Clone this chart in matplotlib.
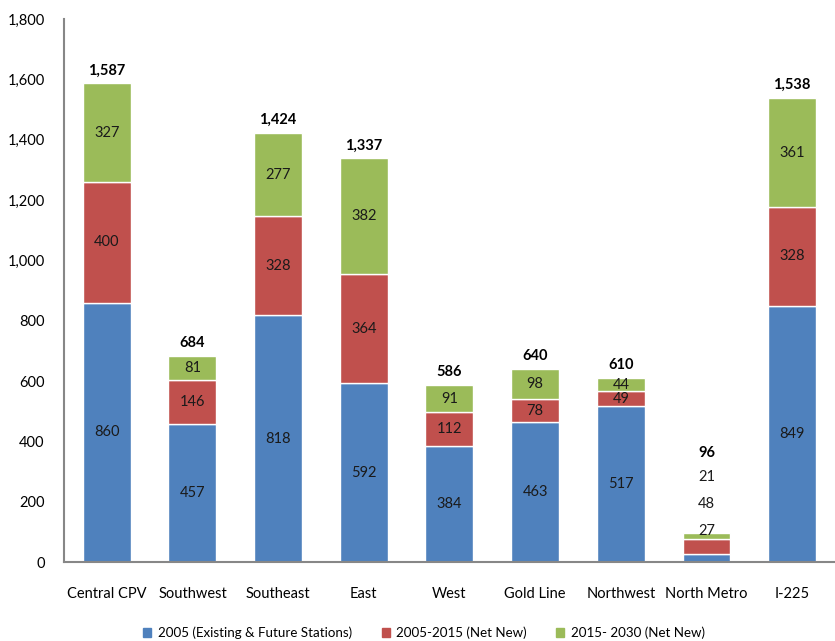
import numpy as np
import matplotlib.pyplot as plt
from matplotlib.patches import Patch

plt.rcParams['font.family'] = ['Lato', 'DejaVu Sans']

corridors = ['Central CPV', 'Southwest', 'Southeast', 'East', 'West',
             'Gold Line', 'Northwest', 'North Metro', 'I-225']
base_2005 = [860, 457, 818, 592, 384, 463, 517, 27, 849]
new_2015 = [400, 146, 328, 364, 112, 78, 49, 48, 328]
new_2030 = [327, 81, 277, 382, 91, 98, 44, 21, 361]
totals = [1587, 684, 1424, 1337, 586, 640, 610, 96, 1538]
series_names = ['2005 (Existing & Future Stations)', '2005-2015 (Net New)',
                '2015- 2030 (Net New)']
colors = ['#4F81BD', '#C0504D', '#9BBB59']

fig = plt.figure(figsize=(8.35, 6.41), dpi=100)
ax = fig.add_axes([0.0766, 0.1232, 0.9234, 0.847])

x = np.arange(len(corridors))
width = 0.56
bottom = np.zeros(len(corridors))
for vals, c in zip([base_2005, new_2015, new_2030], colors):
    vals = np.array(vals)
    ax.bar(x, vals, width, bottom=bottom, color=c, edgecolor='white', linewidth=1)
    for i, v in enumerate(vals):
        if corridors[i] == 'North Metro':
            continue
        ax.text(x[i], bottom[i] + v / 2, str(v), ha='center', va='center',
                fontsize=10.5, color='#1a1a1a')
    bottom += vals

# totals on top
for i, t in enumerate(totals):
    if corridors[i] == 'North Metro':
        continue
    ax.text(x[i], bottom[i] + 20, f'{t:,}', ha='center', va='bottom',
            fontsize=10.5, fontweight='bold')

# North Metro segments too thin, labels stacked above the bar
nm = corridors.index('North Metro')
seg_vals = [base_2005[nm], new_2015[nm], new_2030[nm]]
for k, v in enumerate(seg_vals):
    ax.text(x[nm], 103 + k * 89, str(v), ha='center', va='center',
            fontsize=10.5, color='#1a1a1a')
ax.text(x[nm], 361, f'{totals[nm]:,}', ha='center', va='center',
        fontsize=10.5, fontweight='bold')

ax.set_xlim(-0.5, len(corridors) - 0.5)
ax.set_ylim(0, 1800)
ax.set_yticks(np.arange(0, 1801, 200))
ax.yaxis.set_major_formatter(plt.FuncFormatter(lambda v, p: f'{int(v):,}'))
ax.set_xticks(x)
ax.set_xticklabels(corridors)
ax.tick_params(axis='both', length=0, labelsize=10.5)
ax.tick_params(axis='x', pad=18)
ax.tick_params(axis='y', pad=14)

for s in ['top', 'right']:
    ax.spines[s].set_visible(False)
for s in ['left', 'bottom']:
    ax.spines[s].set_color('#878787')
    ax.spines[s].set_linewidth(1.5)

handles = [Patch(color=c, label=n) for c, n in zip(colors, series_names)]
fig.legend(handles=handles, loc='lower center', bbox_to_anchor=(0.508, -0.016),
           ncol=3, frameon=False, fontsize=9.6, handlelength=0.6,
           handleheight=0.6, handletextpad=0.5, columnspacing=2.2)

fig.savefig('out.png', dpi=100)
